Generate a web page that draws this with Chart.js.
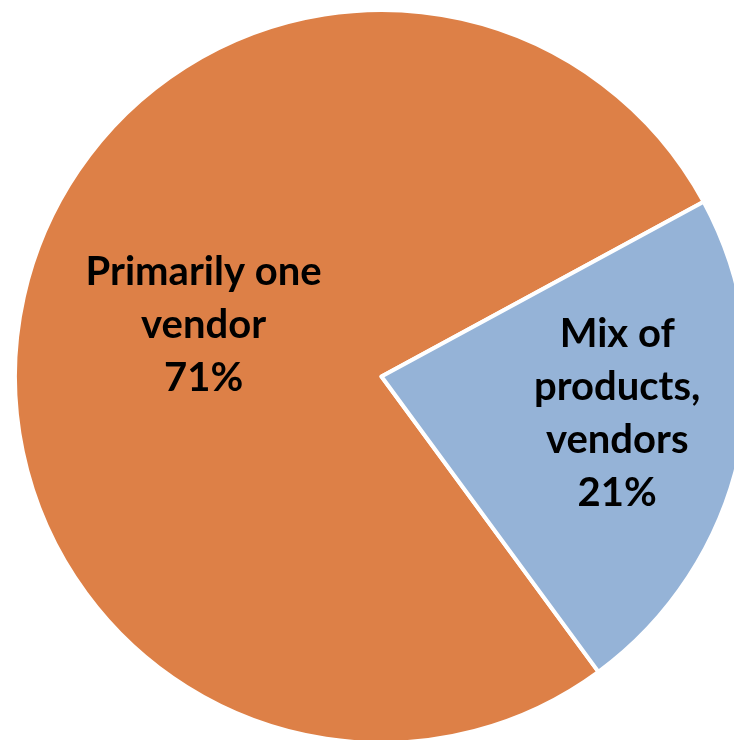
<!DOCTYPE html>
<html>
<head>
<meta charset="utf-8">
<script src="https://cdn.jsdelivr.net/npm/chart.js@4.4.1/dist/chart.umd.min.js"></script>
<style>
    html, body { margin: 0; padding: 0; background: #ffffff; overflow: hidden; }
    body { width: 734px; height: 740px; position: relative; }
    #pie-wrap { position: absolute; left: 13px; top: 8px; width: 737px; height: 737px; }
</style>
</head>
<body>
<div id="pie-wrap"><canvas id="vendor-pie"></canvas></div>
<script>
// Vendor sourcing split
const sliceLabels = [['Primarily one', 'vendor'], ['Mix of', 'products,', 'vendors']];
const sliceValues = [71, 21];
const sliceColors = ['#DD8047', '#95B3D7'];

// Label placement (fraction of radius, angular nudge in degrees)
const labelRadius = [0.505, 0.651];
const labelNudge = [-3.4, 3.7];

// Draws the wrapped category name plus the percentage inside each slice
const sliceLabelPlugin = {
    id: 'sliceLabels',
    afterDatasetsDraw(chart) {
        const ctx = chart.ctx;
        const meta = chart.getDatasetMeta(0);
        const lineHeight = 53;

        ctx.save();
        ctx.fillStyle = '#000000';
        ctx.font = 'bold 40px Lato';
        ctx.textAlign = 'center';
        ctx.textBaseline = 'middle';

        meta.data.forEach((arc, i) => {
            const p = arc.getProps(['x', 'y', 'startAngle', 'endAngle', 'outerRadius'], true);
            const mid = (p.startAngle + p.endAngle) / 2 - labelNudge[i] * Math.PI / 180;
            const r = p.outerRadius * labelRadius[i];
            const cx = p.x + Math.cos(mid) * r;
            const cy = p.y + Math.sin(mid) * r;

            const lines = sliceLabels[i].concat([sliceValues[i] + '%']);
            const top = cy - (lines.length - 1) * lineHeight / 2;
            lines.forEach((line, j) => {
                ctx.fillText(line, cx, top + j * lineHeight);
            });
        });
        ctx.restore();
    }
};

const pieChart = new Chart(document.getElementById('vendor-pie').getContext('2d'), {
    type: 'pie',
    data: {
        labels: sliceLabels.map(l => l.join(' ')),
        datasets: [{
            data: sliceValues,
            backgroundColor: sliceColors,
            borderColor: '#ffffff',
            borderWidth: 4,
            borderJoinStyle: 'round'
        }]
    },
    options: {
        responsive: true,
        maintainAspectRatio: false,
        animation: false,
        rotation: 143.7,
        layout: { padding: 0 },
        plugins: {
            legend: { display: false },
            tooltip: { enabled: false }
        }
    },
    plugins: [sliceLabelPlugin]
});
</script>
</body>
</html>
